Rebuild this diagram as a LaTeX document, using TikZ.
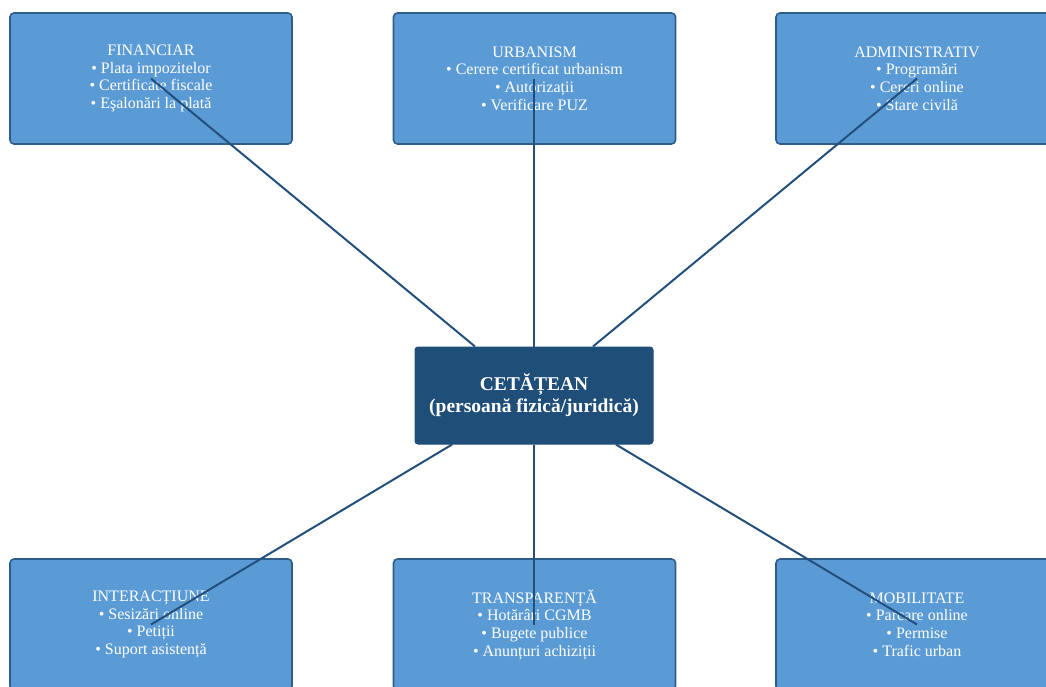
\documentclass[tikz,border=0pt]{standalone}
\usepackage{fontspec}
\setmainfont{Liberation Serif}
\definecolor{boxfill}{HTML}{5B9BD5}
\definecolor{boxline}{HTML}{2F5D8A}
\definecolor{cenfill}{HTML}{1F4E79}
\definecolor{conn}{HTML}{234F7C}
\begin{document}
\begin{tikzpicture}[x=1pt,y=-1pt,
  outer/.style={draw=boxline, line width=1.6pt, fill=boxfill, rounded corners=4pt,
    minimum width=282pt, minimum height=131pt, text=white, align=center,
    font=\fontsize{16}{17.7}\selectfont, inner sep=0pt},
  central/.style={draw=cenfill, line width=1pt, fill=cenfill, rounded corners=3pt,
    minimum width=238pt, minimum height=97pt, text=white, align=center,
    font=\fontsize{19.5}{22}\selectfont\bfseries, inner sep=0pt},
  link/.style={draw=conn, line width=2pt}]
\useasboundingbox (0,0) rectangle (1046,686);
\node[outer] (fin) at (151,78.5) {FINANCIAR\\• Plata impozitelor\\• Certificate fiscale\\• Eşalonări la plată};
\node[outer] (urb) at (534.5,78.5) {URBANISM\\• Cerere certificat urbanism\\• Autorizații\\• Verificare PUZ};
\node[outer] (adm) at (917,78.5) {ADMINISTRATIV\\• Programări\\• Cereri online\\• Stare civilă};
\node[outer] (int) at (151,624.5) {INTERACȚIUNE\\• Sesizări online\\• Petiții\\• Suport asistență};
\node[outer] (tra) at (534.5,624.5) {TRANSPARENȚĂ\\• Hotărâri CGMB\\• Bugete publice\\• Anunțuri achiziții};
\node[outer] (mob) at (917,624.5) {MOBILITATE\\• Parcare online\\• Permise\\• Trafic urban};
\node[central] (cen) at (534,395.5) {CETĂȚEAN\\(persoană fizică/juridică)};
\draw[link] (cen) -- (fin.center);
\draw[link] (cen.north) -- (cen.north |- urb.center);
\draw[link] (cen) -- (adm.center);
\draw[link] (cen) -- (int.center);
\draw[link] (cen.south) -- (cen.south |- tra.center);
\draw[link] (cen) -- (mob.center);
\end{tikzpicture}
\end{document}
